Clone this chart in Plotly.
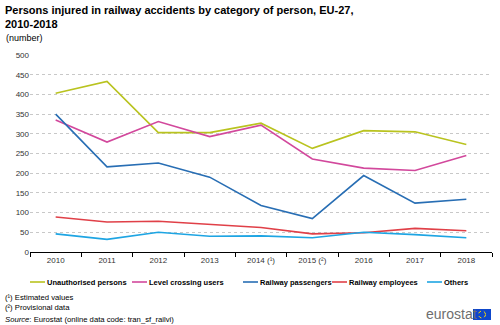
import plotly.graph_objects as go

years = ["2010", "2011", "2012", "2013", "2014 (¹)", "2015 (²)", "2016", "2017", "2018"]
unauthorised = [403, 433, 303, 303, 327, 263, 308, 305, 273]
level_crossing = [335, 279, 331, 293, 322, 236, 213, 207, 245]
passengers = [350, 216, 226, 190, 118, 85, 194, 124, 134]
employees = [89, 76, 78, 70, 62, 46, 49, 60, 54]
others = [46, 32, 50, 40, 41, 36, 50, 44, 36]

names = ["Unauthorised persons", "Level crossing users", "Railway passengers",
         "Railway employees", "Others"]
values = [unauthorised, level_crossing, passengers, employees, others]
colors = ["#B9C31F", "#D2489C", "#286EB4", "#E04048", "#1EA5E3"]

FONT = "Liberation Sans, Arial, sans-serif"
W, H = 500, 325
ML, MR, MT, MB = 30, 8, 55, 73
PW, PH = W - ML - MR, H - MT - MB

def px(x):
    return (x - ML) / PW

def py(y):
    return (H - MB - y) / PH

fig = go.Figure()
for name, vals, col in zip(names, values, colors):
    fig.add_trace(go.Scatter(x=years, y=vals, name=name, mode="lines",
                             line=dict(color=col, width=1.6), showlegend=False))

fig.update_layout(
    width=W, height=H,
    margin=dict(l=ML, r=MR, t=MT, b=MB),
    paper_bgcolor="white", plot_bgcolor="white",
    font=dict(family=FONT, size=8, color="#333"),
    xaxis=dict(type="category", range=[-0.5, 8.5], tickson="boundaries",
               ticks="outside", ticklen=4, tickcolor="#000",
               showline=True, linecolor="#000", linewidth=1,
               showgrid=False, tickfont=dict(size=8, color="#333")),
    yaxis=dict(range=[0, 500], dtick=50, showgrid=True, gridcolor="#c8c8c8",
               griddash="dot", gridwidth=1, zeroline=False, showline=False,
               ticks="", tickfont=dict(size=8, color="#333")),
)

def pa(text, xpx, ypx, size, color="#000", xanchor="left"):
    fig.add_annotation(text=text, x=px(xpx), y=py(ypx), xref="paper", yref="paper",
                       xanchor=xanchor, yanchor="middle", showarrow=False, align="left",
                       font=dict(size=size, color=color, family=FONT))

# title
fig.add_annotation(text="<b>Persons injured in railway accidents by category of person, EU-27,<br>2010-2018</b>",
                   x=px(3), y=py(2), xref="paper", yref="paper", xanchor="left", yanchor="top",
                   showarrow=False, align="left",
                   font=dict(size=11, color="#000", family=FONT))
pa("(number)", 4, 38, 9, color="#000")

# legend (manual, single row)
leg_x = [46, 148, 259, 348, 443]
leg_y = 282
for name, col, lx in zip(names, colors, leg_x):
    fig.add_shape(type="line", xref="paper", yref="paper",
                  x0=px(lx - 16), x1=px(lx - 1), y0=py(leg_y), y1=py(leg_y),
                  line=dict(color=col, width=1.6))
    pa("<b>" + name + "</b>", lx - 1, leg_y, 7.5, color="#000")

pa("(¹) Estimated values", 3, 297, 7.7)
pa("(²) Provisional data", 3, 307.5, 7.7)
pa("<i>Source</i>: Eurostat (online data code: tran_sf_railvi)", 3, 319, 7.7)

# eurostat logo
pa("eurostat", 424, 314, 14, color="#6e6e6e")
fig.add_shape(type="rect", xref="paper", yref="paper",
              x0=px(473), x1=px(491), y0=py(320), y1=py(309),
              fillcolor="#0E47CB", line=dict(width=0))
fig.add_shape(type="circle", xref="paper", yref="paper",
              x0=px(478.5), x1=px(485.5), y0=py(318), y1=py(311),
              fillcolor="rgba(0,0,0,0)", line=dict(width=1, color="#FFDD00", dash="dot"))

fig.write_html("out.html")
